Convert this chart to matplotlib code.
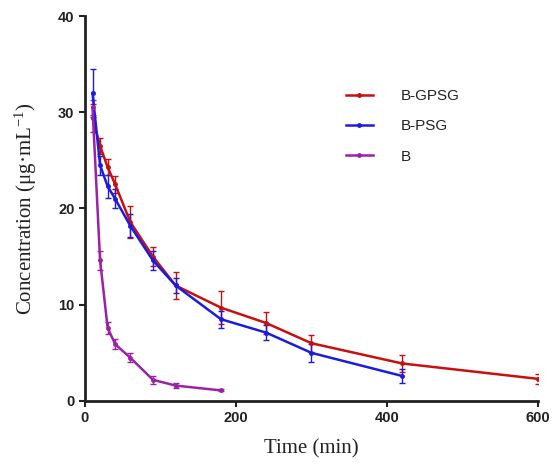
import matplotlib
matplotlib.use("Agg")
import matplotlib.pyplot as plt
from matplotlib.lines import Line2D

plt.rcParams['mathtext.fontset'] = 'custom'
plt.rcParams['mathtext.rm'] = 'Liberation Serif'
plt.rcParams['mathtext.it'] = 'Liberation Serif:italic'

time_gpsg = [10, 20, 30, 40, 60, 90, 120, 180, 240, 300, 420, 600]
conc_gpsg = [29.4, 26.5, 24.3, 22.5, 18.6, 15.0, 12.0, 9.7, 8.1, 6.0, 3.9, 2.3]
err_gpsg = [1.5, 0.8, 0.8, 0.9, 1.7, 1.0, 1.4, 1.7, 1.1, 0.9, 0.9, 0.5]

time_psg = [10, 20, 30, 40, 60, 90, 120, 180, 240, 300, 420]
conc_psg = [32.0, 24.5, 22.3, 21.0, 18.2, 14.6, 12.0, 8.5, 7.1, 5.0, 2.6]
err_psg = [2.5, 1.0, 1.2, 1.0, 1.2, 1.0, 0.8, 0.9, 0.8, 0.9, 0.7]

time_b = [10, 20, 30, 40, 60, 90, 120, 180]
conc_b = [30.5, 14.6, 7.6, 5.9, 4.5, 2.2, 1.6, 1.1]
err_b = [0.8, 1.0, 0.6, 0.5, 0.5, 0.4, 0.3, 0.1]

labels = ["B-GPSG", "B-PSG", "B"]
colors = ["#c8100e", "#1c1ce0", "#9a22a6"]

fig = plt.figure(figsize=(5.58, 4.68), dpi=100)
ax = fig.add_axes([0.1523, 0.1432, 0.8118, 0.8226])

series = [(time_gpsg, conc_gpsg, err_gpsg), (time_psg, conc_psg, err_psg), (time_b, conc_b, err_b)]
handles = []
for (t, c, e), lab, col in zip(series, labels, colors):
    ax.errorbar(t, c, yerr=e, color=col, lw=1.8, marker='o', ms=2.5, capsize=2.5,
                elinewidth=1, capthick=1)
    handles.append(Line2D([], [], color=col, lw=1.8, marker='o', ms=2.5, label=lab))

ax.set_xlim(0, 600)
ax.set_ylim(0, 40)
ax.set_xticks([0, 200, 400, 600])
ax.set_yticks([0, 10, 20, 30, 40])
for s in ['top', 'right']:
    ax.spines[s].set_visible(False)
for s in ['left', 'bottom']:
    ax.spines[s].set_linewidth(2)
    ax.spines[s].set_color('#222222')
ax.tick_params(width=1.5, length=4, color='#222222')
for lab in ax.get_xticklabels() + ax.get_yticklabels():
    lab.set_fontfamily('Liberation Sans')
    lab.set_fontweight('bold')
    lab.set_fontsize(10.5)
    lab.set_color('#222222')

ax.set_xlabel("Time (min)", fontfamily='Liberation Serif', fontsize=15, color='#222222', labelpad=10)
ax.set_ylabel("Concentration (μg·mL$^{-1}$)", fontfamily='Liberation Serif', fontsize=15,
              color='#222222', labelpad=14)

leg = ax.legend(handles=handles, loc='upper left', bbox_to_anchor=(0.545, 0.845), frameon=False,
                prop={'family': 'Liberation Sans', 'size': 11}, handlelength=1.8,
                labelspacing=1.05, handletextpad=1.8)
for t in leg.get_texts():
    t.set_color('#222222')

fig.savefig("out.png", dpi=100)
